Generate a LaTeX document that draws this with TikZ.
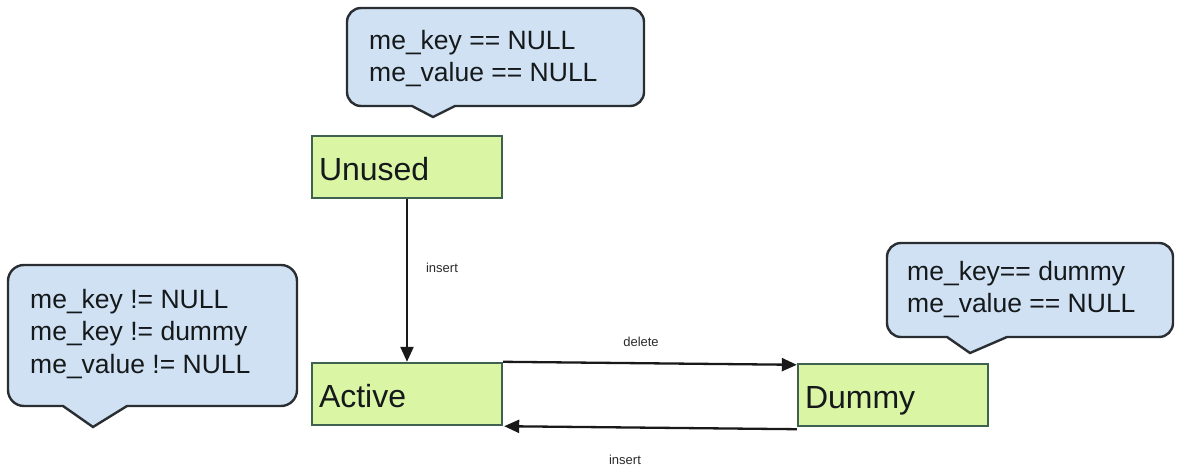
\documentclass[tikz,border=0pt]{standalone}
\usepackage{fontspec}
\setmainfont{Liberation Sans}
\usetikzlibrary{arrows.meta,calc}
\definecolor{boxfill}{HTML}{DAF6A4}
\definecolor{boxline}{HTML}{3F6150}
\definecolor{callfill}{HTML}{CFE1F2}
\definecolor{callline}{HTML}{2A2E32}
\definecolor{txt}{HTML}{15191B}
\definecolor{lbl}{HTML}{2A2A2A}
\tikzset{
  statebox/.style={draw=boxline, fill=boxfill, line width=2.4pt, minimum width=190pt,
    minimum height=62pt, text width=176pt, inner xsep=7pt, inner ysep=0pt, align=left,
    text height=26pt, text depth=0pt,
    font=\fontsize{32}{36}\selectfont, text=txt},
  calltext/.style={anchor=north west, align=left, inner sep=0pt,
    font=\fontsize{26.5}{32.5}\selectfont, text=txt},
  callshape/.style={draw=callline, fill=callfill, line width=2.4pt},
  conn/.style={draw=black!90, line width=2.3pt, -{Triangle[length=15pt,width=13pt]}},
  lbltext/.style={font=\fontsize{13}{15}\selectfont, text=lbl},
}
\begin{document}
\begin{tikzpicture}[x=1pt,y=-1pt]
\useasboundingbox (0,0) rectangle (1184,466);
% callouts (shapes)
\draw[callshape] (433,117) -- (455,106) [rounded corners=14] -- (644,106) -- (644,8) -- (347,8) -- (347,106) [sharp corners] -- (412,106) -- cycle;
\draw[callshape] (93,427) -- (127,406) [rounded corners=16] -- (297,406) -- (297,265) -- (8,265) -- (8,406) [sharp corners] -- (63,406) -- cycle;
\draw[callshape] (970,353) -- (1007,337) [rounded corners=14] -- (1173,337) -- (1173,243) -- (887,243) -- (887,337) [sharp corners] -- (947,337) -- cycle;
% callout texts
\node[calltext] (c1) at (369,30) {me\_key == NULL\\me\_value == NULL};
\node[calltext] (c2) at (30,289) {me\_key != NULL\\me\_key != dummy\\me\_value != NULL};
\node[calltext] (c3) at (907,261) {me\_key== dummy\\me\_value == NULL};
% states
\node[statebox] (unused) at (407,167) {Unused};
\node[statebox] (active) at (407,394) {Active};
\node[statebox] (dummy) at (893,395) {Dummy};
% connectors
\draw[conn] (unused.south) -- (active.north);
\draw[conn] (active.north east) -- ([yshift=-2pt]dummy.north west);
\draw[conn] ([yshift=-2pt]dummy.south west) -- ([xshift=1pt]active.south east);
% labels
\node[lbltext] (l1) at (442,268) {insert};
\node[lbltext] (l2) at (641,342) {delete};
\node[lbltext] (l3) at (625,460) {insert};
\end{tikzpicture}
\end{document}
